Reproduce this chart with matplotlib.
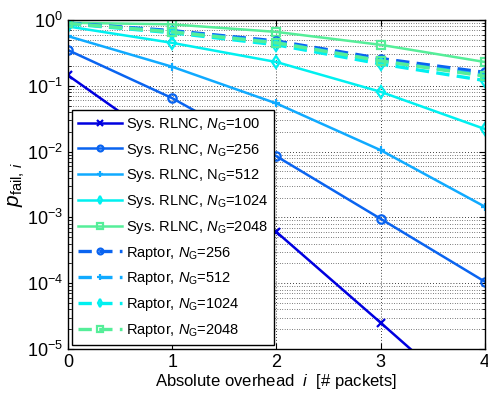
import numpy as np
import matplotlib
matplotlib.use('Agg')
import matplotlib.pyplot as plt
from matplotlib.ticker import LogLocator, NullFormatter

plt.rcParams.update({
    'font.family': 'Liberation Sans',
    'font.size': 11,
    'mathtext.fontset': 'custom',
    'mathtext.rm': 'Liberation Sans',
    'mathtext.it': 'Liberation Sans:italic',
})

# ── Data ────────────────────────────────────────────────────────────────────
overhead = [0, 1, 2, 3, 4]

rlnc_100 = [1.45e-1, 1.1e-2, 6.0e-4, 2.5e-5, 1.0e-6]
rlnc_256 = [3.5e-1, 6.5e-2, 8.5e-3, 9.5e-4, 1.05e-4]
rlnc_512 = [5.7e-1, 1.95e-1, 5.4e-2, 1.05e-2, 1.45e-3]
rlnc_1024 = [8.0e-1, 4.5e-1, 2.3e-1, 8.1e-2, 2.2e-2]
rlnc_2048 = [9.1e-1, 8.6e-1, 6.6e-1, 4.2e-1, 2.3e-1]

raptor_256 = [9.0e-1, 6.9e-1, 4.8e-1, 2.6e-1, 1.6e-1]
raptor_512 = [8.9e-1, 6.7e-1, 4.6e-1, 2.4e-1, 1.45e-1]
raptor_1024 = [8.8e-1, 6.4e-1, 4.2e-1, 2.15e-1, 1.2e-1]
raptor_2048 = [8.9e-1, 6.6e-1, 4.5e-1, 2.4e-1, 1.4e-1]

rlnc_labels = [r'Sys. RLNC, $N_{\rm G}$=100', r'Sys. RLNC, $N_{\rm G}$=256',
               r'Sys. RLNC, N$_{\rm G}$=512', r'Sys. RLNC, $N_{\rm G}$=1024',
               r'Sys. RLNC, $N_{\rm G}$=2048']
raptor_labels = [r'Raptor, $N_{\rm G}$=256', r'Raptor, $N_{\rm G}$=512',
                 r'Raptor, $N_{\rm G}$=1024', r'Raptor, $N_{\rm G}$=2048']

# ── Style ───────────────────────────────────────────────────────────────────
C100 = '#0000e0'
C256 = '#0a64f0'
C512 = '#10aaff'
C1024 = '#00f0f0'
C2048 = '#55ee99'

fig = plt.figure(figsize=(4.88, 3.93), dpi=100)
ax = fig.add_axes([0.139, 0.112, 0.855, 0.837])

rlnc = [rlnc_100, rlnc_256, rlnc_512, rlnc_1024, rlnc_2048]
rlnc_style = [(C100, 'x'), (C256, 'o'), (C512, '+'), (C1024, 'd'), (C2048, 's')]
for ys, (c, m), lab in zip(rlnc, rlnc_style, rlnc_labels):
    ax.plot(overhead, ys, color=c, marker=m, markersize=6, markeredgewidth=1.6,
            markerfacecolor='none', linewidth=1.8, label=lab)

raptor = [raptor_256, raptor_512, raptor_1024, raptor_2048]
raptor_style = [(C256, 'o'), (C512, '+'), (C1024, 'd'), (C2048, 's')]
for ys, (c, m), lab in zip(raptor, raptor_style, raptor_labels):
    ax.plot(overhead, ys, color=c, marker=m, markersize=6, markeredgewidth=1.6,
            markerfacecolor='none', linewidth=2.4, linestyle=(0, (4, 2.2)), label=lab)

ax.set_yscale('log')
ax.set_xlim(0, 4)
ax.set_ylim(1e-5, 1)
ax.set_xticks(overhead)
ax.yaxis.set_major_locator(LogLocator(base=10, numticks=10))
ax.yaxis.set_minor_locator(LogLocator(base=10, subs=np.arange(2, 10), numticks=10))
ax.yaxis.set_minor_formatter(NullFormatter())

ax.grid(True, which='major', color='k', linestyle=(0, (1, 2.5)), linewidth=0.6)
ax.grid(True, which='minor', axis='y', color='k', linestyle=(0, (1, 2.5)), linewidth=0.5)
ax.tick_params(which='both', direction='in', top=True, right=True, labelsize=13)
ax.tick_params(which='major', length=4)
ax.tick_params(which='minor', length=2)
for s in ax.spines.values():
    s.set_linewidth(1.0)

ax.set_xlabel(r'Absolute overhead  $i$  [# packets]', fontsize=12, labelpad=1)
ax.set_ylabel(r'$p_{\rm fail,\,\mathit{i}}$', fontsize=15, labelpad=0)

leg = ax.legend(loc='lower left', bbox_to_anchor=(0.0, 0.0), fontsize=10.5,
                frameon=True, fancybox=False, edgecolor='k', framealpha=1,
                handlelength=3.0, handletextpad=0.3, labelspacing=0.6,
                borderpad=0.4, markerscale=0.7, borderaxespad=0.3)
leg.get_frame().set_linewidth(1.0)

fig.savefig('out.png', dpi=100)
